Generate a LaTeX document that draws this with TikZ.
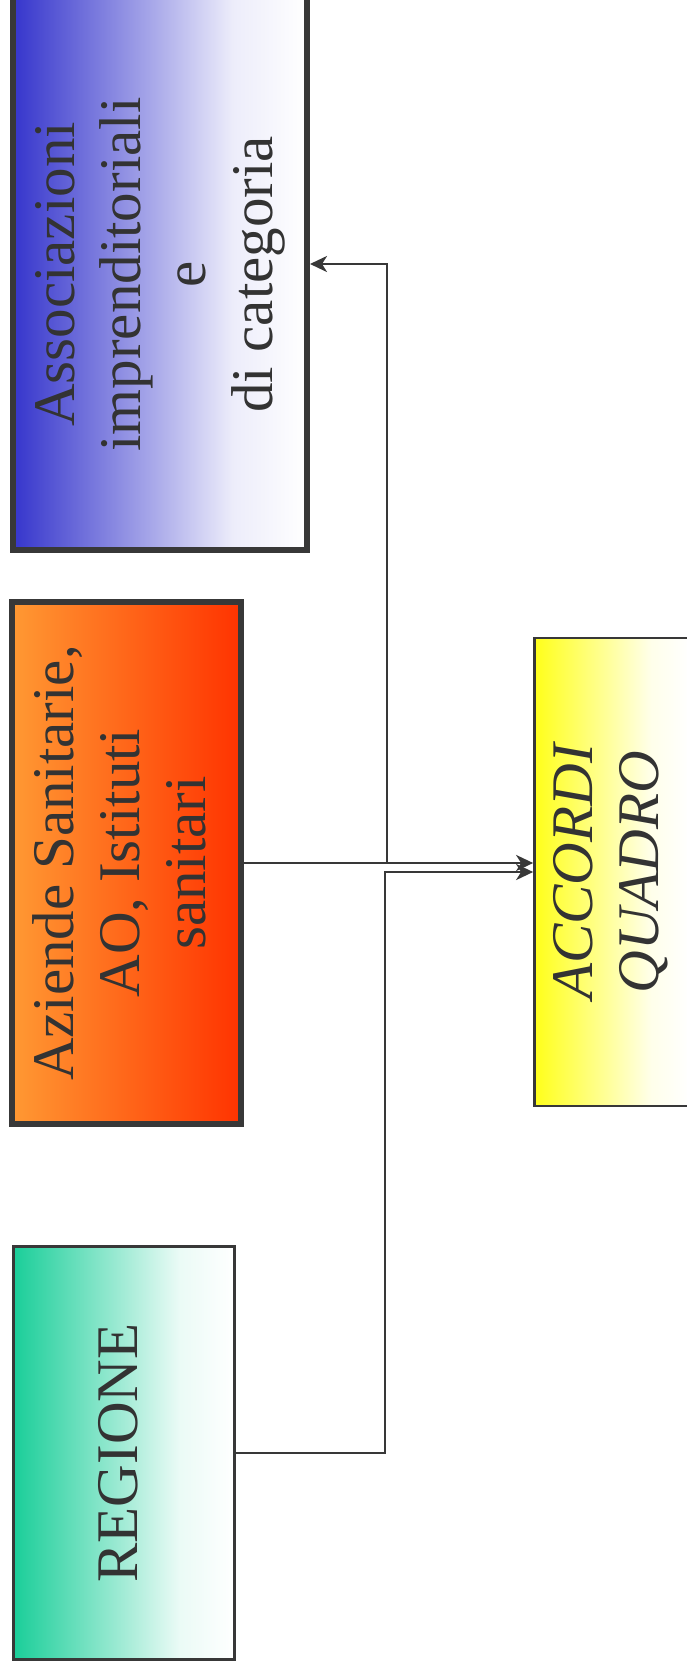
\documentclass[tikz,border=0pt]{standalone}
\usepackage{fontspec}
\setmainfont{Liberation Serif}
\usetikzlibrary{arrows.meta}
\definecolor{txt}{HTML}{333333}
\definecolor{brd}{HTML}{383838}
\definecolor{cblue}{HTML}{3535CC}
\definecolor{corange}{HTML}{FF9933}
\definecolor{cred}{HTML}{FF3300}
\definecolor{cteal}{HTML}{1ACE99}
\definecolor{cyellow}{HTML}{FFFF1A}
\newcommand{\mkfade}[2]{\pgfdeclarehorizontalshading{#1}{100bp}{color(0bp)=(#2); color(25bp)=(#2); color(37.5bp)=(#2!70!white); color(50bp)=(#2!40!white); color(62.5bp)=(#2!9!white); color(75bp)=(white); color(100bp)=(white)}}
\mkfade{fadeblue}{cblue}
\mkfade{fadeteal}{cteal}
\mkfade{fadeyellow}{cyellow}
\newcommand{\boxtext}[2][0pt]{\rotatebox{90}{\fontsize{59}{66}\selectfont\begin{tabular}{@{}c@{}}#2\end{tabular}\hspace*{#1}}}
\tikzset{
  box/.style={draw=brd, rectangle, inner sep=0pt, text=txt},
  thickbox/.style={box, line width=6pt},
  thinbox/.style={box, line width=2.7pt},
  conn/.style={draw=brd, line width=2.7pt},
  arr/.style={conn, -{Stealth[length=17pt,width=16pt,inset=5pt]}}
}
\begin{document}
\begin{tikzpicture}[x=1pt,y=1pt]
\useasboundingbox[fill=white] (0,0) rectangle (686,-1673);
\node[thickbox, shading=fadeblue, minimum width=294.4pt, minimum height=563pt] (assoc) at (159.8,-268.5)
  {\boxtext[12pt]{Associazioni\\imprenditoriali\\e\\di categoria}};
\node[thickbox, left color=corange, right color=cred, minimum width=229pt, minimum height=522pt] (azi) at (126.5,-863)
  {\boxtext{Aziende Sanitarie,\\AO, Istituti\\sanitari}};
\node[thinbox, shading=fadeyellow, minimum width=155.5pt, minimum height=468pt] (acc) at (612.25,-872)
  {\boxtext{\itshape ACCORDI\\\itshape QUADRO}};
\node[thinbox, shading=fadeteal, minimum width=221pt, minimum height=413pt] (reg) at (124,-1453)
  {\boxtext{REGIONE}};
\coordinate (j1) at (387,-863);
\coordinate (a1) at (387,-264);
\coordinate (j2) at (385,-872);
\draw[arr] (azi.east) -- (azi.east -| acc.west);
\draw[arr] (j1) -- (a1) -- (assoc.east |- a1);
\draw[arr] (reg.east) -| (j2) -- (acc.west);
\end{tikzpicture}
\end{document}
